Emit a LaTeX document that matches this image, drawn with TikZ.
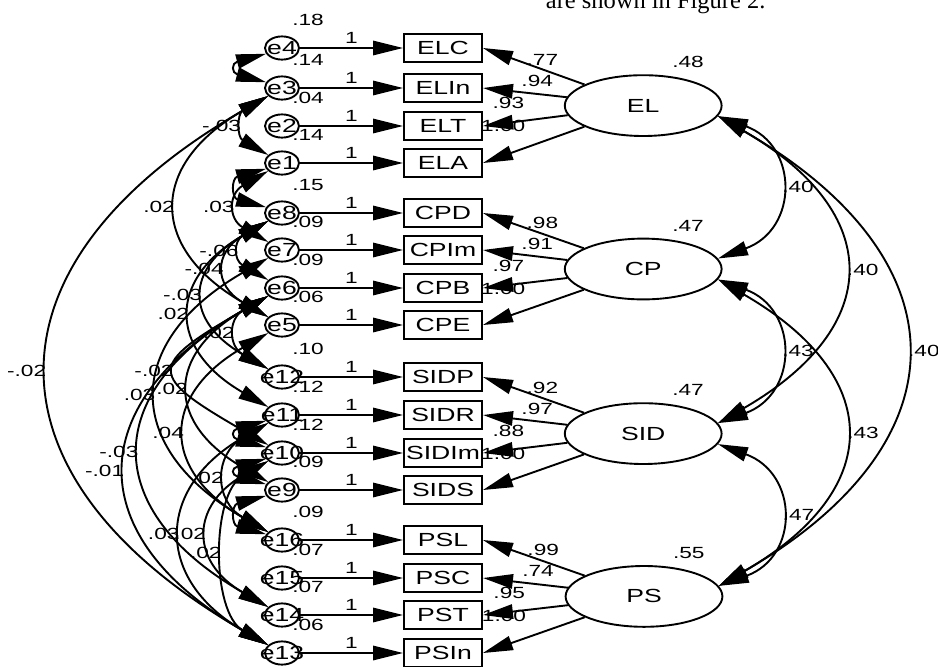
\documentclass[tikz,border=0pt]{standalone}
\usepackage{fontspec}
\setmainfont{Liberation Sans}[FakeStretch=1.4]
\newfontfamily\textserif{Liberation Serif}
\usepackage{tikz}
\usetikzlibrary{arrows.meta,positioning,shapes.geometric,calc}

\begin{document}
\begin{tikzpicture}[
  line width=1.35pt,
  font=\fontsize{13.5}{15}\selectfont,
  >={Triangle[length=7.5mm,width=3.6mm]},
  arrow/.style={->},
  covarrow/.style={<->},
  err/.style={draw, ellipse, minimum width=8.5mm, minimum height=5.8mm, inner sep=0pt},
  obs/.style={draw, rectangle, minimum width=19.5mm, minimum height=7mm, inner sep=1pt},
  latent/.style={draw, ellipse, minimum width=39.2mm, minimum height=15.2mm},
  num/.style={font=\fontsize{11.5}{13}\selectfont, inner sep=2pt},
]
  \clip (0,0) rectangle (23.45,-16.65);

  % text of the page above the figure
  \node[anchor=base west, inner sep=0pt, font=\textserif\fontsize{17.4}{19}\selectfont]
    (pagetext) at (13.625,-0.2) {are shown in Figure 2.};

  % latent factors
  \node[latent] (EL)  at (16.08,-2.64)  {EL};
  \node[latent] (CP)  at (16.08,-6.725) {CP};
  \node[latent] (SID) at (16.08,-10.84) {SID};
  \node[latent] (PS)  at (16.1,-14.91)  {PS};

  % errors, indicators, loadings
  \foreach \err/\obs/\lat/\y/\ev in {
      e4/ELC/EL/-1.2/.18, e3/ELIn/EL/-2.2/.14, e2/ELT/EL/-3.15/.04, e1/ELA/EL/-4.075/.14,
      e8/CPD/CP/-5.325/.15, e7/CPIm/CP/-6.25/.09, e6/CPB/CP/-7.2/.09, e5/CPE/CP/-8.125/.06,
      e12/SIDP/SID/-9.425/.10, e11/SIDR/SID/-10.375/.12, e10/SIDIm/SID/-11.325/.12, e9/SIDS/SID/-12.25/.09,
      e16/PSL/PS/-13.5/.09, e15/PSC/PS/-14.45/.07, e14/PST/PS/-15.375/.07, e13/PSIn/PS/-16.325/.06} {
    \node[err] (\err) at (7.05,\y) {\makebox[0pt]{\err}};
    \node[obs] (\obs) at (11.075,\y) {\obs};
    \draw[arrow] (\err) -- node[num, above=0.3mm] {1} (\obs);
    \draw[arrow] (\lat) -- (\obs.east);
    \node[num] at ($(\err)+(0.65,0.7)$) {\ev};
  }

  % loading and variance labels
  \foreach \lat/\ldA/\ldB/\ldC/\ldD/\lvar in {
      EL/.77/.94/.93/1.00/.48, CP/.98/.91/.97/1.00/.47,
      SID/.92/.97/.88/1.00/.47, PS/.99/.74/.95/1.00/.55} {
    \node[num] at ($(\lat)+(-2.52,1.15)$)  {\ldA};
    \node[num] at ($(\lat)+(-2.65,0.625)$) {\ldB};
    \node[num] at ($(\lat)+(-3.37,0.075)$) {\ldC};
    \node[num] at ($(\lat)+(-3.5,-0.5)$)   {\ldD};
    \node[num] at ($(\lat)+(1.12,1.08)$)   {\lvar};
  }

  % factor covariances
  \foreach \a/\b/\ang/\k/\lbl in {
      EL/CP/20/2.15/.40, EL/SID/30/4.82/.40, EL/PS/30/7.16/.40,
      CP/SID/20/2.15/.43, CP/PS/30/4.82/.43, SID/PS/20/2.15/.47} {
    \draw[covarrow] (\a.-8) .. controls +(-\ang:\k) and +(\ang:\k)
      .. node[num, right] {\lbl} (\b.8);
  }

  % error covariances
  \foreach \a/\b/\k/\lbl in {
      e3/e1/0.9/-.03, e1/e7/1.15/.03, e3/e5/3.45/.02, e3/e13/8.4/-.02,
      e8/e6/1.0/-.06, e8/e5/1.57/-.04, e8/e12/2.4/-.03, e8/e11/2.9/.02,
      e6/e12/1.15/.02, e6/e10/3.5/-.02, e7/e16/4.2/.03, e6/e9/2.95/.02,
      e5/e16/3.1/.04, e6/e14/4.85/-.03, e6/e13/5.4/-.01, e11/e16/1.57/.02,
      e11/e13/3.27/.03, e10/e14/2.25/.02, e10/e13/1.65/.02} {
    \draw[covarrow] (\a.210) .. controls +(210:\k) and +(150:\k)
      .. node[num, left] {\lbl} (\b.150);
  }
  % short ones, labels hidden under the tips
  \foreach \a/\b in {e4/e3, e1/e8, e11/e10, e10/e9, e9/e16} {
    \draw[covarrow] (\a.200) .. controls +(195:0.9) and +(165:0.9) .. (\b.160);
  }
\end{tikzpicture}
\end{document}
